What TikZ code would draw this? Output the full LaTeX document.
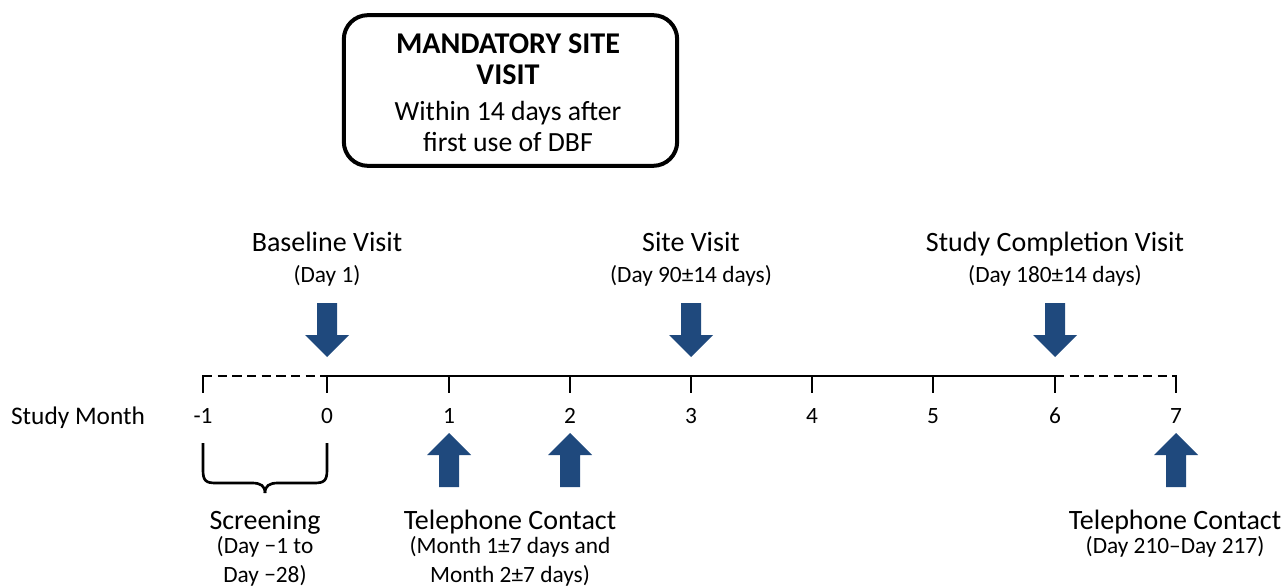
\documentclass[tikz,border=0pt]{standalone}
\usepackage{fontspec}
\setmainfont{Carlito}
\definecolor{arrowblue}{RGB}{31,73,125}
\tikzset{
	lbl/.style={anchor=base, font=\fontsize{21}{25}\selectfont},
	sublbl/.style={anchor=base, font=\fontsize{17.5}{20}\selectfont},
	boxlbl/.style={anchor=base, font=\fontsize{20.8}{24}\selectfont},
	boxttl/.style={anchor=base, font=\fontsize{22.6}{24}\selectfont\bfseries},
	axis/.style={line width=2.2pt},
	downarr/.style={fill=arrowblue},
}

\begin{document}
\begin{tikzpicture}[x=0.75pt,y=-0.75pt]
	\useasboundingbox (0,0) rectangle (1285,588);
	% box on top
	\node[draw, line width=3pt, rounded corners=18pt, minimum width=250pt, minimum height=113pt] (mandbox) at (510.5,90.5) {};
	\node[boxttl] (mand1) at (508,54) {MANDATORY SITE};
	\node[boxttl] (mand2) at (508,85) {VISIT};
	\node[boxlbl] (mand3) at (508,121) {Within 14 days after};
	\node[boxlbl] (mand4) at (508,152) {first use of DBF};
	% axis
	\coordinate (m-1) at (203,376);
	\coordinate (m0) at (327,376);
	\coordinate (m6) at (1055,376);
	\coordinate (m7) at (1176,376);
	\draw[axis, dashed, dash pattern=on 7pt off 4pt] (m-1) -- (m0);
	\draw[axis] (m0) -- (m6);
	\draw[axis, dashed, dash pattern=on 7pt off 4pt] (m6) -- (m7);
	\foreach \x/\m in {203/-1,327/0,449/1,570/2,691/3,812/4,933/5,1055/6,1176/7} {
		\draw[axis] (\x,375) -- (\x,393);
		\node[sublbl] (t\m) at (\x,423) {\m};
	}
	\node[lbl, font=\fontsize{19}{22}\selectfont] (sm) at (78,424) {Study Month};
	% arrows
	\foreach \x in {327,691,1055}
		\fill[downarr] (\x-10,303) -- (\x+10,303) -- (\x+10,335) -- (\x+22,335) -- (\x,357) -- (\x-22,335) -- (\x-10,335) -- cycle;
	\foreach \x in {449,570,1176}
		\fill[downarr] (\x-10,487) -- (\x+10,487) -- (\x+10,455) -- (\x+22,455) -- (\x,433) -- (\x-22,455) -- (\x-10,455) -- cycle;
	% labels above
	\node[lbl] (base) at (327,252) {Baseline Visit};
	\node[sublbl] (based) at (327,282) {(Day 1)};
	\node[lbl] (site) at (691,252) {Site Visit};
	\node[sublbl] (sited) at (691,282) {(Day 90±14 days)};
	\node[lbl] (compl) at (1055,252) {Study Completion Visit};
	\node[sublbl] (compld) at (1055,282) {(Day 180±14 days)};
	% brace
	\draw[line width=2pt] (203,443) -- (203,470) .. controls (203,481) and (206,483) .. (216,483) -- (252,483) .. controls (261,483) and (265,486) .. (265,493);
	\draw[line width=2pt] (327,443) -- (327,470) .. controls (327,481) and (324,483) .. (314,483) -- (278,483) .. controls (269,483) and (265,486) .. (265,493);
	% labels below
	\node[lbl] (scr) at (265,529) {Screening};
	\node[sublbl] (scr1) at (265,553) {(Day −1 to};
	\node[sublbl] (scr2) at (265,582) {Day −28)};
	\node[lbl] (tel) at (510,529) {Telephone Contact};
	\node[sublbl] (tel1) at (510,553) {(Month 1±7 days and};
	\node[sublbl] (tel2) at (510,582) {Month 2±7 days)};
	\node[lbl] (tel7) at (1175,529) {Telephone Contact};
	\node[sublbl] (tel7d) at (1175,553) {(Day 210–Day 217)};
\end{tikzpicture}
\end{document}
